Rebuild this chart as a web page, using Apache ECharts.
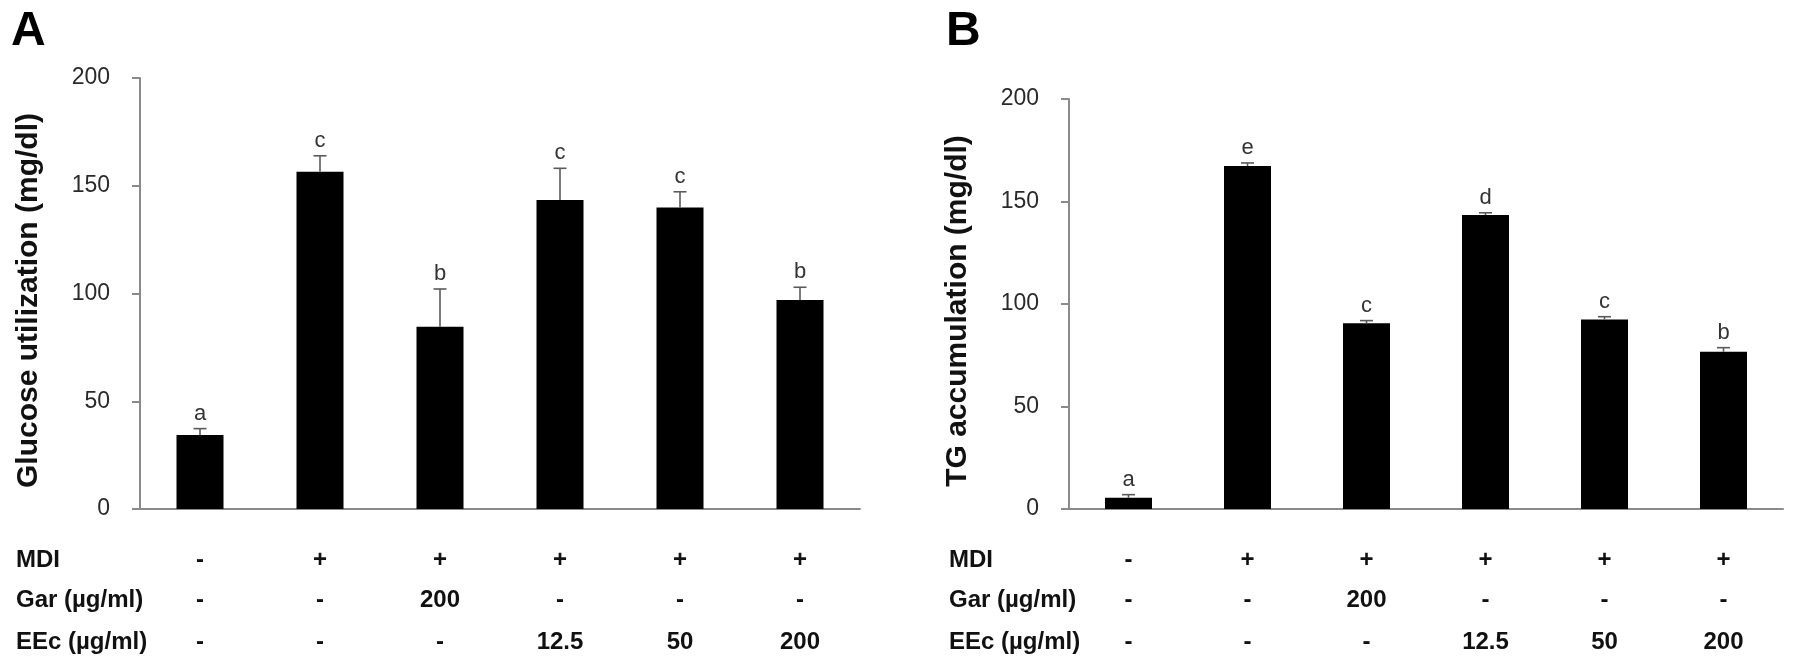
<!DOCTYPE html>
<html>
<head>
<meta charset="utf-8">
<title>Glucose utilization and TG accumulation</title>
<script src="https://cdn.jsdelivr.net/npm/echarts@6/dist/echarts.min.js"></script>
<style>
	html, body { margin: 0; padding: 0; background: #fff; }
	#chart { width: 1795px; height: 666px; }
</style>
</head>
<body>
<div id="chart"></div>
<script>
// treatment table under both panels
let mdiRow = ['-', '+', '+', '+', '+', '+'];
let garRow = ['-', '-', '200', '-', '-', '-'];
let eecRow = ['-', '-', '-', '12.5', '50', '200'];
let rowTitles = ['MDI', 'Gar (\u00b5g/ml)', 'EEc (\u00b5g/ml)'];

// panel A: glucose utilization (mg/dl)
let glucoseMean = [34.3, 156.5, 84.6, 143.4, 139.9, 97.0];
let glucoseErr = [3.0, 7.4, 17.5, 14.7, 7.3, 5.9];
let glucoseSig = ['a', 'c', 'b', 'c', 'c', 'b'];

// panel B: TG accumulation (mg/dl)
let tgMean = [5.5, 167.3, 90.6, 143.4, 92.5, 76.7];
let tgErr = [1.5, 1.5, 1.3, 1.1, 1.3, 2.0];
let tgSig = ['a', 'e', 'c', 'd', 'c', 'b'];

let yTicks = [0, 50, 100, 150, 200];

let FONT = '"Liberation Sans", Arial, sans-serif';
let AXIS_GRAY = '#8a8a8a';

function errorSeries(gridIdx, mean, err, sig) {
	return {
		type: 'custom',
		xAxisIndex: gridIdx * 3,
		yAxisIndex: gridIdx,
		z: 5,
		data: mean.map(function (m, i) { return [i, m, err[i]]; }),
		renderItem: function (params, api) {
			let i = api.value(0);
			let m = api.value(1);
			let e = api.value(2);
			let base = api.coord([i, m]);
			let top = api.coord([i, m + e]);
			let lineStyle = { stroke: '#5a5a5a', lineWidth: 1.6 };
			return {
				type: 'group',
				children: [
					{ type: 'line', shape: { x1: base[0], y1: base[1], x2: top[0], y2: top[1] }, style: lineStyle },
					{ type: 'line', shape: { x1: top[0] - 6.5, y1: top[1], x2: top[0] + 6.5, y2: top[1] }, style: lineStyle },
					{
						type: 'text',
						x: top[0],
						y: top[1] - 4,
						style: {
							text: sig[params.dataIndex],
							align: 'center',
							verticalAlign: 'bottom',
							fontSize: 22,
							fontFamily: FONT,
							fill: '#333'
						}
					}
				]
			};
		}
	};
}

function rowAxis(gridIdx, data, offset, isMain) {
	return {
		type: 'category',
		gridIndex: gridIdx,
		data: data,
		position: 'bottom',
		offset: offset,
		axisLine: { show: isMain, lineStyle: { color: AXIS_GRAY, width: 2 } },
		axisTick: { show: false },
		axisLabel: {
			margin: 39,
			interval: 0,
			color: '#111',
			fontSize: 24,
			fontWeight: 'bold',
			fontFamily: FONT
		}
	};
}

function valueAxis(gridIdx, name) {
	return {
		type: 'value',
		gridIndex: gridIdx,
		min: 0,
		max: 200,
		interval: 50,
		name: name,
		nameLocation: 'middle',
		nameGap: 96,
		nameTextStyle: {
			fontSize: 30,
			fontWeight: 'bold',
			fontFamily: FONT,
			color: '#111',
			padding: [0, 14, 0, 0]
		},
		splitLine: { show: false },
		axisLine: { show: true, lineStyle: { color: AXIS_GRAY, width: 2 } },
		axisTick: { show: true, length: 8, lineStyle: { color: AXIS_GRAY, width: 2 } },
		axisLabel: {
			margin: 30,
			color: '#2a2a2a',
			fontSize: 23,
			fontFamily: FONT,
			formatter: function (v) { return yTicks.indexOf(v) >= 0 ? String(v) : ''; }
		}
	};
}

function rowGraphics(left) {
	let ys = [560, 600, 642];
	return rowTitles.map(function (t, i) {
		return {
			type: 'text',
			x: left,
			y: ys[i],
			style: {
				text: t,
				align: 'left',
				verticalAlign: 'middle',
				fontSize: 24,
				fontWeight: 'bold',
				fontFamily: FONT,
				fill: '#111'
			}
		};
	});
}

let chart = echarts.init(document.getElementById('chart'));

let option = {
	animation: false,
	backgroundColor: '#fff',
	grid: [
		{ left: 140, top: 78, width: 720, height: 431 },
		{ left: 1069, top: 99, width: 714, height: 410 }
	],
	xAxis: [
		rowAxis(0, mdiRow, 0, true),
		rowAxis(0, garRow, 40, false),
		rowAxis(0, eecRow, 82, false),
		rowAxis(1, mdiRow, 0, true),
		rowAxis(1, garRow, 40, false),
		rowAxis(1, eecRow, 82, false)
	],
	yAxis: [
		valueAxis(0, 'Glucose utilization (mg/dl)'),
		valueAxis(1, 'TG accumulation (mg/dl)')
	],
	series: [
		{
			type: 'bar',
			xAxisIndex: 0,
			yAxisIndex: 0,
			data: glucoseMean,
			barWidth: 47,
			itemStyle: { color: '#000' }
		},
		errorSeries(0, glucoseMean, glucoseErr, glucoseSig),
		{
			type: 'bar',
			xAxisIndex: 3,
			yAxisIndex: 1,
			data: tgMean,
			barWidth: 47,
			itemStyle: { color: '#000' }
		},
		errorSeries(1, tgMean, tgErr, tgSig)
	],
	graphic: [
		{
			type: 'text',
			x: 11,
			y: 32,
			style: { text: 'A', verticalAlign: 'middle', fontSize: 48, fontWeight: 'bold', fontFamily: FONT, fill: '#000' }
		},
		{
			type: 'text',
			x: 946,
			y: 32,
			style: { text: 'B', verticalAlign: 'middle', fontSize: 48, fontWeight: 'bold', fontFamily: FONT, fill: '#000' }
		}
	].concat(rowGraphics(16), rowGraphics(949))
};

chart.setOption(option);
</script>
</body>
</html>
